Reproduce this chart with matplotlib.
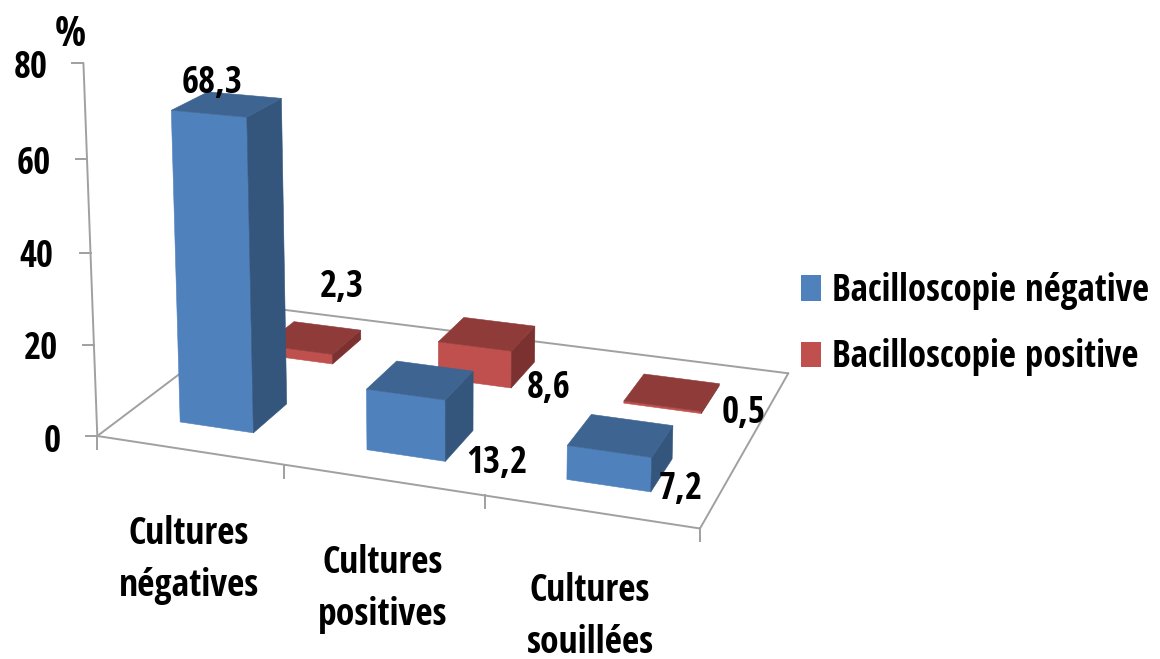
import numpy as np
import matplotlib
matplotlib.use("Agg")
import matplotlib.pyplot as plt
from matplotlib.patches import Polygon, Patch

categories = ["Cultures\nnégatives", "Cultures\npositives", "Cultures\nsouillées"]
series_names = ["Bacilloscopie négative", "Bacilloscopie positive"]
negative = [68.3, 13.2, 7.2]
positive = [2.3, 8.6, 0.5]
value_ticks = [0, 20, 40, 60, 80]

# perspective of the 3d chart: (category, series depth, value, 1) -> pixel
VIEW = np.array([
    [177.6138, 108.3075, -0.21241, 97.3],
    [13.2522, -37.3873, -4.68862, 436.0],
    [-0.033266, 0.086977, -0.00046995, 1.0],
])
BAR_LO, BAR_HI = 0.3, 0.7
GREY = "#a0a0a0"
FONT = ["Open Sans Condensed", "DejaVu Sans"]
SIZE = 26.5

BLUE = {"front": "#4f81bd", "top": "#3e6491", "side": "#34557c"}
RED = {"front": "#c0504d", "top": "#8e3b39", "side": "#7a312f"}

label_pos = {"neg": [(212, 83), (497, 463), (681, 489)], "pos": [(342, 287), (549, 388), (744, 413)]}
cat_pos = [(189, 560), (383, 589), (590, 617)]
tick_label_pos = [(52, 442), (41, 349), (36, 257), (34, 164), (31, 68)]


def project(x, y, z):
    p = VIEW @ np.array([x, y, z, 1.0])
    return p[0] / p[2], p[1] / p[2]


def axis_line(ax, a, b):
    (x0, y0), (x1, y1) = project(*a), project(*b)
    ax.plot([x0, x1], [y0, y1], color=GREY, lw=1.4, solid_capstyle="round", zorder=1)


def draw_bar(ax, cat, row, val, colors, z):
    x0, x1 = cat + BAR_LO, cat + BAR_HI
    y0, y1 = row + BAR_LO, row + BAR_HI
    faces = {
        "front": [(x0, y0, 0), (x1, y0, 0), (x1, y0, val), (x0, y0, val)],
        "side": [(x1, y0, 0), (x1, y1, 0), (x1, y1, val), (x1, y0, val)],
        "top": [(x0, y0, val), (x1, y0, val), (x1, y1, val), (x0, y1, val)],
    }
    for name, corners in faces.items():
        ax.add_patch(Polygon([project(*c) for c in corners], closed=True, facecolor=colors[name],
                             edgecolor=colors[name], lw=0.4, zorder=z))


fig = plt.figure(figsize=(11.6, 6.59), dpi=100, facecolor="white")
ax = fig.add_axes([0, 0, 1, 1])
ax.set_xlim(0, 1160)
ax.set_ylim(659, 0)
ax.axis("off")

# floor and value axis
n_cat = len(categories)
axis_line(ax, (0, 0, 0), (n_cat, 0, 0))
axis_line(ax, (n_cat, 0, 0), (n_cat, 2, 0))
axis_line(ax, (n_cat, 2, 0), (0, 2, 0))
axis_line(ax, (0, 2, 0), (0, 0, 0))
axis_line(ax, (0, 0, 0), (0, 0, value_ticks[-1]))

for v, (tx, ty) in zip(value_ticks, tick_label_pos):
    px, py = project(0, 0, v)
    ax.plot([px - 11, px], [py, py], color=GREY, lw=1.4, zorder=1)
    ax.text(tx, ty, str(v), family=FONT, fontsize=SIZE, fontweight="bold", ha="center", va="center")
ax.text(70, 35, "%", family=FONT, fontsize=SIZE + 3, fontweight="bold", ha="center", va="center")

for i in range(n_cat + 1):
    px, py = project(i, 0, 0)
    ax.plot([px, px], [py, py + 13], color=GREY, lw=1.4, zorder=1)

# back row first so the blue bars sit in front
for i, v in enumerate(positive):
    draw_bar(ax, i, 1, v, RED, 2 + i)
for i, v in enumerate(negative):
    draw_bar(ax, i, 0, v, BLUE, 6 + i)

for vals, key in ((negative, "neg"), (positive, "pos")):
    for v, (tx, ty) in zip(vals, label_pos[key]):
        ax.text(tx, ty, f"{v:.1f}".replace(".", ","), family=FONT, fontsize=SIZE, fontweight="bold",
                ha="center", va="center", zorder=20)

for name, (tx, ty) in zip(categories, cat_pos):
    ax.text(tx, ty, name, family=FONT, fontsize=SIZE + 0.5, fontweight="bold", ha="center", va="center",
            linespacing=1.45, zorder=20)

handles = [Patch(facecolor=BLUE["front"], label=series_names[0]),
           Patch(facecolor=RED["front"], label=series_names[1])]
ax.legend(handles=handles, loc="upper left", bbox_to_anchor=(801, 272), bbox_transform=ax.transData,
          frameon=False, borderpad=0, borderaxespad=0, handlelength=0.55, handleheight=0.7,
          handletextpad=0.28, labelspacing=0.77, prop={"family": FONT, "size": SIZE, "weight": "bold"})

fig.savefig("out.png", dpi=100, facecolor="white")
plt.close(fig)
